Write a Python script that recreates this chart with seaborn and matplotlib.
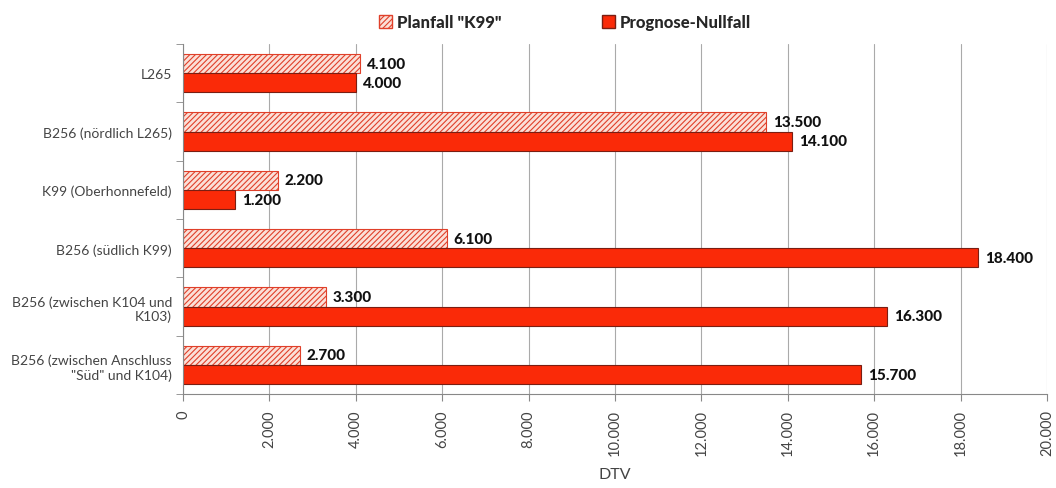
import pandas as pd
import matplotlib.pyplot as plt
import seaborn as sns
from matplotlib.ticker import FuncFormatter, FixedLocator
from matplotlib.patches import Patch

categories = [
    "L265",
    "B256 (nördlich L265)",
    "K99 (Oberhonnefeld)",
    "B256 (südlich K99)",
    "B256 (zwischen K104 und\nK103)",
    "B256 (zwischen Anschluss\n\"Süd\" und K104)",
]
planfall = [4100, 13500, 2200, 6100, 3300, 2700]
nullfall = [4000, 14100, 1200, 18400, 16300, 15700]
series = ['Planfall "K99"', "Prognose-Nullfall"]

df = pd.DataFrame({
    "Strecke": categories * 2,
    "DTV": planfall + nullfall,
    "Fall": [series[0]] * len(categories) + [series[1]] * len(categories),
})

red = "#fa2a08"
hatch_red = "#e0402a"
edge = "#7a1e12"

sns.set_style("white")
plt.rcParams["font.family"] = ["Lato", "DejaVu Sans"]
plt.rcParams["hatch.linewidth"] = 0.8

fig = plt.figure(figsize=(10.56, 4.89), dpi=100, facecolor="white")
ax = fig.add_axes([0.1733, 0.192, 0.8182, 0.716])

sns.barplot(
    data=df, y="Strecke", x="DTV", hue="Fall", orient="h",
    palette=[red, red], saturation=1, width=0.66, gap=0, ax=ax, legend=False,
    edgecolor=edge, linewidth=0.8,
)

n = len(categories)
for p in ax.patches[:n]:
    p.set_facecolor("#fbe0d8")
    p.set_hatch("//////")
    p.set_edgecolor(hatch_red)

for cont in ax.containers:
    labels = [f"{v:,.0f}".replace(",", ".") for v in cont.datavalues]
    ax.bar_label(cont, labels=labels, padding=5, fontsize=11,
                 fontweight="black", color="#111111")

ax.set_xlim(0, 20000)
ax.set_ylim(n - 0.5, -0.5)
ax.set_xticks(range(0, 20001, 2000))
ax.xaxis.set_major_formatter(FuncFormatter(lambda v, _: f"{v:,.0f}".replace(",", ".")))
ax.tick_params(axis="x", rotation=90, labelsize=10.5, labelcolor="#444444",
               length=5, color="#888888", bottom=True, direction="out", pad=6)
ax.tick_params(axis="y", labelsize=10, labelcolor="#444444", length=0, pad=8)
ax.yaxis.set_minor_locator(FixedLocator([i - 0.5 for i in range(n + 1)]))
ax.tick_params(axis="y", which="minor", length=5, color="#888888", left=True)
ax.grid(axis="x", color="#aaaaaa", linewidth=0.8)
ax.set_axisbelow(True)
for s in ["top", "right"]:
    ax.spines[s].set_visible(False)
for s in ["left", "bottom"]:
    ax.spines[s].set_color("#888888")
    ax.spines[s].set_linewidth(0.8)

ax.set_ylabel("")
ax.set_xlabel("DTV", fontsize=11.5, color="#444444", labelpad=8)

handles = [
    Patch(facecolor="#fbe0d8", edgecolor=hatch_red, hatch="//////", label=series[0]),
    Patch(facecolor=red, edgecolor=edge, label=series[1]),
]
leg = fig.legend(handles=handles, loc="upper center", bbox_to_anchor=(0.535, 1.0),
                 ncol=2, frameon=False, handlelength=0.8, handleheight=0.8,
                 handletextpad=0.3, columnspacing=6,
                 prop={"weight": "black", "size": 12})

fig.savefig("out.png", dpi=100)
